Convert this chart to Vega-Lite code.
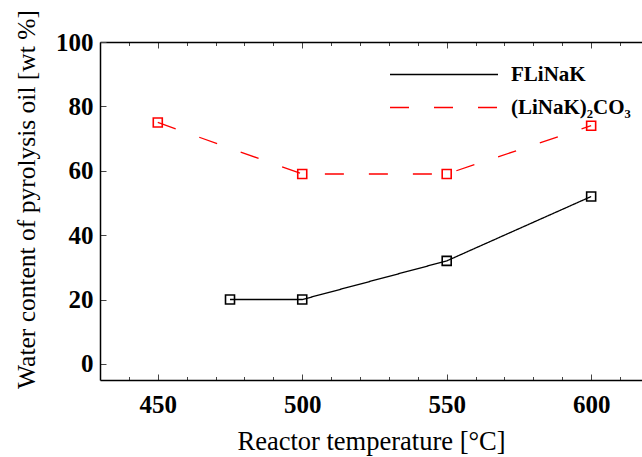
{
  "$schema": "https://vega.github.io/schema/vega-lite/v6.json",
  "width": 542,
  "height": 338,
  "autosize": {"type": "none"},
  "padding": {"left": 100, "top": 42, "right": 0, "bottom": 77},
  "background": "white",
  "config": {
    "view": {"stroke": null},
    "font": "Liberation Serif",
    "axis": {
      "domainColor": "black",
      "domainWidth": 1.5,
      "tickColor": "#444444",
      "tickWidth": 1,
      "labelFont": "Liberation Serif",
      "labelFontSize": 25,
      "labelFontWeight": "bold",
      "labelColor": "black",
      "titleFont": "Liberation Serif",
      "titleFontSize": 25.5,
      "titleFontWeight": "normal",
      "titleColor": "black",
      "grid": false,
      "labelOverlap": false,
      "labelFlush": false,
      "labelBound": false
    }
  },
  "data": {
    "values": [
      {"temp": 475, "water": 20, "salt": "FLiNaK"},
      {"temp": 500, "water": 20, "salt": "FLiNaK"},
      {"temp": 550, "water": 32, "salt": "FLiNaK"},
      {"temp": 600, "water": 52, "salt": "FLiNaK"},
      {"temp": 450, "water": 75, "salt": "(LiNaK)₂CO₃"},
      {"temp": 500, "water": 59, "salt": "(LiNaK)₂CO₃"},
      {"temp": 550, "water": 59, "salt": "(LiNaK)₂CO₃"},
      {"temp": 600, "water": 74, "salt": "(LiNaK)₂CO₃"}
    ]
  },
  "layer": [
    {
      "mark": {"type": "line", "strokeWidth": 1.3},
      "encoding": {
        "x": {
          "field": "temp", "type": "quantitative",
          "scale": {"domain": [430, 617.6], "nice": false, "zero": false},
          "axis": {
            "orient": "bottom",
            "title": "Reactor temperature [°C]",
            "titleFontSize": 26.5,
            "values": [440, 450, 460, 470, 480, 490, 500, 510, 520, 530, 540, 550, 560, 570, 580, 590, 600, 610],
            "labelExpr": "datum.value % 50 === 0 ? datum.label : ''",
            "tickSize": {"condition": {"test": "datum.value % 50 === 0", "value": -6}, "value": -3.5},
            "labelPadding": 18,
            "titlePadding": 9
          }
        },
        "y": {
          "field": "water", "type": "quantitative",
          "scale": {"domain": [-5, 100], "nice": false, "zero": false},
          "axis": {
            "title": "Water content of pyrolysis oil [wt %]",
            "values": [0, 5, 10, 15, 20, 25, 30, 35, 40, 45, 50, 55, 60, 65, 70, 75, 80, 85, 90, 95, 100],
            "labelExpr": "datum.value % 20 === 0 ? datum.label : ''",
            "tickSize": {"condition": {"test": "datum.value % 20 === 0", "value": -6}, "value": -3.5},
            "labelPadding": 13,
            "titlePadding": 16,
            "titleY": 157
          }
        },
        "color": {
          "field": "salt", "type": "nominal",
          "scale": {"domain": ["FLiNaK", "(LiNaK)₂CO₃"], "range": ["black", "red"]},
          "legend": {
            "title": null,
            "orient": "none",
            "legendX": 289,
            "legendY": 22,
            "symbolType": "stroke",
            "symbolSize": 11664,
            "symbolStrokeWidth": 1.3,
            "clipHeight": 21,
            "labelFont": "Liberation Serif",
            "labelFontSize": 21,
            "labelFontWeight": "bold",
            "labelColor": "black",
            "labelOffset": 12,
            "rowPadding": 11
          }
        },
        "strokeDash": {
          "field": "salt", "type": "nominal",
          "scale": {"domain": ["FLiNaK", "(LiNaK)₂CO₃"], "range": [[1, 0], [19, 25]]},
          "legend": {
            "title": null,
            "orient": "none",
            "legendX": 289,
            "legendY": 22,
            "symbolType": "stroke",
            "symbolSize": 11664,
            "symbolStrokeWidth": 1.3,
            "clipHeight": 21,
            "labelFont": "Liberation Serif",
            "labelFontSize": 21,
            "labelFontWeight": "bold",
            "labelColor": "black",
            "labelOffset": 12,
            "rowPadding": 11
          }
        }
      }
    },
    {
      "mark": {"type": "point", "shape": "square", "filled": false, "size": 81, "strokeWidth": 1.6, "opacity": 1},
      "encoding": {
        "x": {
          "field": "temp", "type": "quantitative",
          "axis": {
            "orient": "top",
            "title": null,
            "labels": false,
            "values": [440, 450, 460, 470, 480, 490, 500, 510, 520, 530, 540, 550, 560, 570, 580, 590, 600, 610],
            "tickSize": {"condition": {"test": "datum.value % 50 === 0", "value": -6}, "value": -3.5}
          }
        },
        "y": {"field": "water", "type": "quantitative"},
        "color": {"field": "salt", "type": "nominal", "legend": null}
      }
    }
  ],
  "resolve": {"axis": {"x": "independent"}}
}
